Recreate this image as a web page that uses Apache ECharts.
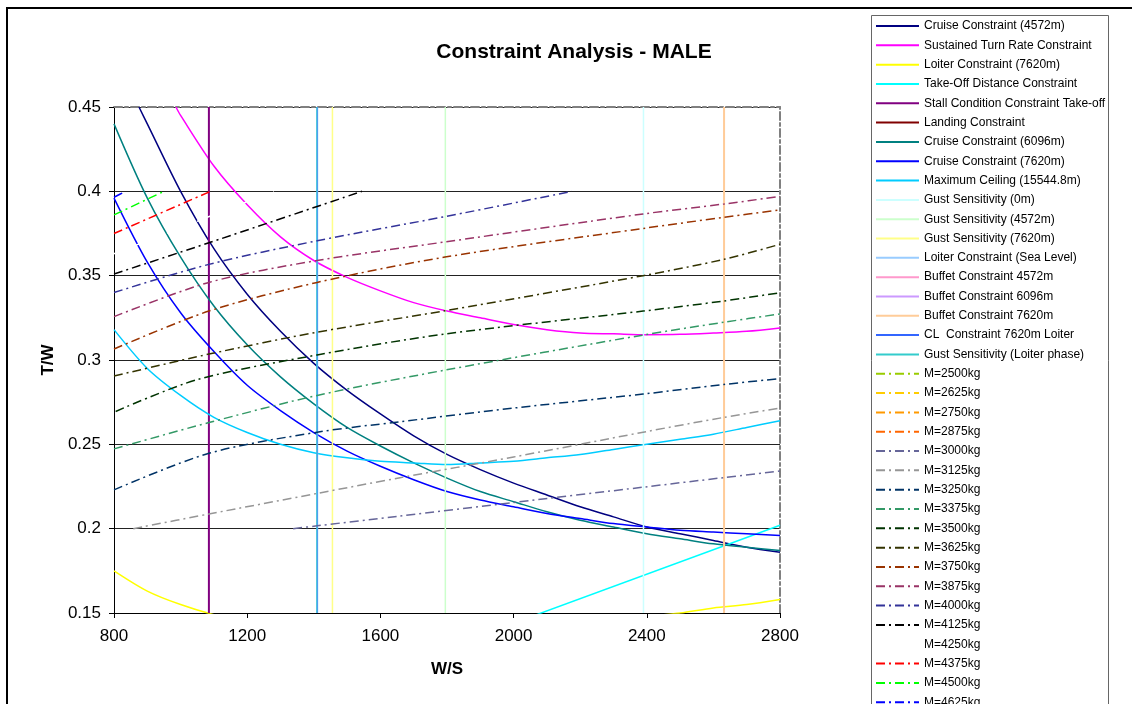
<!DOCTYPE html>
<html>
<head>
<meta charset="utf-8">
<title>Constraint Analysis - MALE</title>
<script src="https://cdn.jsdelivr.net/npm/echarts@6.0.0/dist/echarts.min.js"></script>
<style>
  html, body { margin: 0; padding: 0; background: #fff; }
  #chart { width: 1132px; height: 704px; }
</style>
</head>
<body>
<div id="chart"></div>
<script>
// axis ticks
const xTicks = { min: 800, max: 2800, step: 400 };
const yTicks = { min: 0.15, max: 0.45, step: 0.05 };

// constraint curves, [W/S, T/W]
const cruise4572 = [[875,0.45],[900,0.44],[1000,0.40],[1100,0.366],[1200,0.339],[1300,0.317],[1400,0.298],[1500,0.282],[1600,0.268],[1700,0.255],[1800,0.244],[1900,0.235],[2000,0.227],[2100,0.220],[2200,0.213],[2300,0.207],[2400,0.201],[2500,0.197],[2600,0.193],[2700,0.189],[2800,0.186]];
const turnRate = [[986,0.45],[1000,0.445],[1100,0.415],[1200,0.392],[1300,0.373],[1400,0.359],[1500,0.349],[1600,0.341],[1700,0.334],[1800,0.329],[1900,0.325],[2000,0.321],[2100,0.318],[2200,0.316],[2300,0.3155],[2400,0.315],[2500,0.3152],[2600,0.316],[2700,0.317],[2800,0.319]];
const loiter7620 = [[800,0.175],[900,0.163],[1000,0.155],[1100,0.149],[1200,0.145],[1300,0.142],[1400,0.140],[1500,0.138],[1600,0.138],[1700,0.138],[1800,0.138],[1900,0.139],[2000,0.140],[2100,0.142],[2200,0.144],[2300,0.146],[2400,0.148],[2500,0.150],[2600,0.153],[2700,0.155],[2800,0.158]];
const takeOff = [[2000,0.144],[2800,0.202]];
const stall = [[1085,0.15],[1085,0.45]];
const landing = [];
const cruise6096 = [[800,0.440],[900,0.396],[1000,0.361],[1100,0.332],[1200,0.309],[1300,0.290],[1400,0.274],[1500,0.260],[1600,0.249],[1700,0.239],[1800,0.230],[1900,0.222],[2000,0.216],[2100,0.210],[2200,0.205],[2300,0.201],[2400,0.197],[2500,0.194],[2600,0.191],[2700,0.189],[2800,0.187]];
const cruise7620 = [[800,0.396],[900,0.358],[1000,0.328],[1100,0.305],[1200,0.285],[1300,0.270],[1400,0.257],[1500,0.246],[1600,0.237],[1700,0.229],[1800,0.222],[1900,0.217],[2000,0.213],[2100,0.209],[2200,0.206],[2300,0.203],[2400,0.201],[2500,0.199],[2600,0.198],[2700,0.197],[2800,0.196]];
const maxCeiling = [[800,0.318],[900,0.295],[1000,0.279],[1100,0.266],[1200,0.257],[1300,0.250],[1400,0.245],[1500,0.242],[1600,0.240],[1700,0.239],[1800,0.238],[1900,0.239],[2000,0.240],[2100,0.242],[2200,0.244],[2300,0.247],[2400,0.250],[2500,0.253],[2600,0.256],[2700,0.260],[2800,0.264]];
const gust0 = [[2390,0.15],[2390,0.45]];
const gust4572 = [[1795,0.15],[1795,0.45]];
const gust7620 = [[1456,0.15],[1456,0.45]];
const loiterSL = [[1411,0.15],[1411,0.45]];
const buffet4572 = [];
const buffet6096 = [];
const buffet7620 = [[2632,0.15],[2632,0.45]];
const clLoiter = [[1410,0.15],[1410,0.45]];
const gustLoiter = [[1409,0.15],[1409,0.45]];

// mass lines
const m2500 = [], m2625 = [], m2750 = [], m2875 = [];
const m3000 = [[1338,0.2],[1410,0.2017],[1659,0.2075],[2000,0.2155],[2389,0.2246],[2632,0.2303],[2800,0.2342]];
const m3125 = [[858,0.2],[1085,0.2087],[1410,0.2209],[1659,0.2302],[2000,0.2425],[2389,0.2572],[2632,0.2660],[2800,0.2715]];
const m3250 = [[800,0.223],[1085,0.2447],[1410,0.2572],[1659,0.2634],[2000,0.2715],[2389,0.2798],[2632,0.2855],[2800,0.289]];
const m3375 = [[800,0.2473],[1085,0.2629],[1410,0.279],[1794,0.294],[2389,0.3148],[2632,0.3224],[2800,0.3273]];
const m3500 = [[805,0.2695],[1049,0.2883],[1410,0.303],[1794,0.3154],[2389,0.329],[2632,0.335],[2800,0.3399]];
const m3625 = [[800,0.2905],[1085,0.3035],[1410,0.3165],[1794,0.3292],[2389,0.350],[2632,0.3597],[2800,0.3686]];
const m3750 = [[800,0.3065],[1085,0.329],[1410,0.346],[1794,0.361],[2389,0.378],[2632,0.3846],[2800,0.389]];
const m3875 = [[800,0.3257],[1085,0.346],[1410,0.359],[1794,0.370],[2389,0.3866],[2632,0.3925],[2800,0.397]];
const m4000 = [[800,0.340],[1085,0.3567],[1410,0.3707],[1794,0.385],[2175,0.4]];
const m4125 = [[800,0.351],[1085,0.3695],[1545,0.4]];
const m4250 = [[800,0.363],[1280,0.4]];
const m4375 = [[800,0.375],[1090,0.4]];
const m4500 = [[800,0.386],[950,0.4]];
const m4625 = [[800,0.3965],[835,0.4]];

const chart = echarts.init(document.getElementById('chart'));
const FONT = 'Liberation Sans';
const DASHDOT = [9, 4, 2, 4];

function solid(name, data, color, width, smooth) {
    return {
        name: name, type: 'line', data: data, symbol: 'none', smooth: smooth ? 0.3 : false,
        lineStyle: { color: color, width: width || 1.5 }, itemStyle: { color: color },
        emphasis: { disabled: true }
    };
}
function mass(name, data, color) {
    return {
        name: name, type: 'line', data: data, symbol: 'none', smooth: 0.3,
        lineStyle: { color: color, width: 1.5, type: DASHDOT }, itemStyle: { color: color },
        emphasis: { disabled: true }
    };
}

const series = [
    solid('Cruise Constraint (4572m)', cruise4572, '#000080', 1.5, true),
    solid('Sustained Turn Rate Constraint', turnRate, '#FF00FF', 1.5, true),
    solid('Loiter Constraint (7620m)', loiter7620, '#FFFF00', 1.5, true),
    solid('Take-Off Distance Constraint', takeOff, '#00FFFF', 1.5),
    solid('Stall Condition Constraint Take-off', stall, '#800080', 2),
    solid('Landing Constraint', landing, '#800000', 1.5),
    solid('Cruise Constraint (6096m)', cruise6096, '#008080', 1.5, true),
    solid('Cruise Constraint (7620m)', cruise7620, '#0000FF', 1.5, true),
    solid('Maximum Ceiling (15544.8m)', maxCeiling, '#00CCFF', 1.5, true),
    solid('Gust Sensitivity (0m)', gust0, '#CCFFFF', 1.5),
    solid('Gust Sensitivity (4572m)', gust4572, '#CCFFCC', 1.5),
    solid('Gust Sensitivity (7620m)', gust7620, '#FFFF88', 1.5),
    solid('Loiter Constraint (Sea Level)', loiterSL, '#99CCFF', 1.5),
    solid('Buffet Constraint 4572m', buffet4572, '#FF99CC', 1.5),
    solid('Buffet Constraint 6096m', buffet6096, '#CC99FF', 1.5),
    solid('Buffet Constraint 7620m', buffet7620, '#FFCC99', 2),
    solid('CL  Constraint 7620m Loiter', clLoiter, '#3366FF', 1),
    solid('Gust Sensitivity (Loiter phase)', gustLoiter, '#33CCCC', 1),
    mass('M=2500kg', m2500, '#99CC00'),
    mass('M=2625kg', m2625, '#FFCC00'),
    mass('M=2750kg', m2750, '#FF9900'),
    mass('M=2875kg', m2875, '#FF6600'),
    mass('M=3000kg', m3000, '#666699'),
    mass('M=3125kg', m3125, '#969696'),
    mass('M=3250kg', m3250, '#003366'),
    mass('M=3375kg', m3375, '#339966'),
    mass('M=3500kg', m3500, '#003300'),
    mass('M=3625kg', m3625, '#333300'),
    mass('M=3750kg', m3750, '#993300'),
    mass('M=3875kg', m3875, '#993366'),
    mass('M=4000kg', m4000, '#333399'),
    mass('M=4125kg', m4125, '#000000'),
    mass('M=4250kg', m4250, '#FFFFFF'),
    mass('M=4375kg', m4375, '#FF0000'),
    mass('M=4500kg', m4500, '#00FF00'),
    mass('M=4625kg', m4625, '#0000FF')
];

const option = {
    animation: false,
    backgroundColor: '#fff',
    textStyle: { fontFamily: FONT },
    graphic: [
        { type: 'rect', shape: { x: 7, y: 8, width: 1300, height: 900 }, style: { fill: 'none', stroke: '#000', lineWidth: 2 }, silent: true },
        { type: 'rect', shape: { x: 871.5, y: 15.5, width: 237, height: 900 }, style: { fill: 'none', stroke: '#666', lineWidth: 1 }, silent: true },
        { type: 'text', x: 574, y: 52, style: { text: 'Constraint Analysis - MALE', font: 'bold 21px "Liberation Sans"', fill: '#000', align: 'center', verticalAlign: 'middle' }, silent: true }
    ],
    legend: {
        orient: 'vertical', left: 875, top: 19, height: 800, padding: 0,
        itemWidth: 43, itemHeight: 14, itemGap: 5.32,
        selectedMode: false,
        itemStyle: { opacity: 0 },
        textStyle: { fontFamily: FONT, fontSize: 12, color: '#000', lineHeight: 14 },
        data: series.map(s => s.name)
    },
    grid: { left: 114, right: 352, top: 107, bottom: 91 },
    xAxis: [{
        type: 'value', min: xTicks.min, max: xTicks.max, interval: xTicks.step,
        name: 'W/S', nameLocation: 'middle', nameGap: 48,
        nameTextStyle: { fontFamily: FONT, fontSize: 17, fontWeight: 'bold', color: '#000' },
        axisLine: { show: true, onZero: false, lineStyle: { color: '#000', width: 1 } },
        axisTick: { show: true, length: 5, lineStyle: { color: '#000' } },
        axisLabel: { fontFamily: FONT, fontSize: 17, color: '#000', margin: 15, formatter: v => String(v) },
        splitLine: { show: false }
    }, {
        type: 'value', min: xTicks.min, max: xTicks.max, position: 'top',
        axisLine: { show: true, onZero: false, lineStyle: { color: '#808080', width: 2, type: [8, 3, 3, 3] } },
        axisTick: { show: false }, axisLabel: { show: false }, splitLine: { show: false }
    }],
    yAxis: [{
        type: 'value', min: yTicks.min, max: yTicks.max, interval: yTicks.step,
        name: 'T/W', nameLocation: 'middle', nameGap: 57,
        nameTextStyle: { fontFamily: FONT, fontSize: 17, fontWeight: 'bold', color: '#000' },
        axisLine: { show: true, onZero: false, lineStyle: { color: '#000', width: 1 } },
        axisTick: { show: true, length: 5, lineStyle: { color: '#000' } },
        axisLabel: { fontFamily: FONT, fontSize: 17, color: '#000', margin: 13 },
        splitLine: { show: true, lineStyle: { color: '#222', width: 1 } }
    }, {
        type: 'value', min: yTicks.min, max: yTicks.max, position: 'right',
        axisLine: { show: true, onZero: false, lineStyle: { color: '#808080', width: 2, type: [8, 3, 3, 3] } },
        axisTick: { show: false }, axisLabel: { show: false }, splitLine: { show: false }
    }],
    series: series
};

chart.setOption(option);
</script>
</body>
</html>
